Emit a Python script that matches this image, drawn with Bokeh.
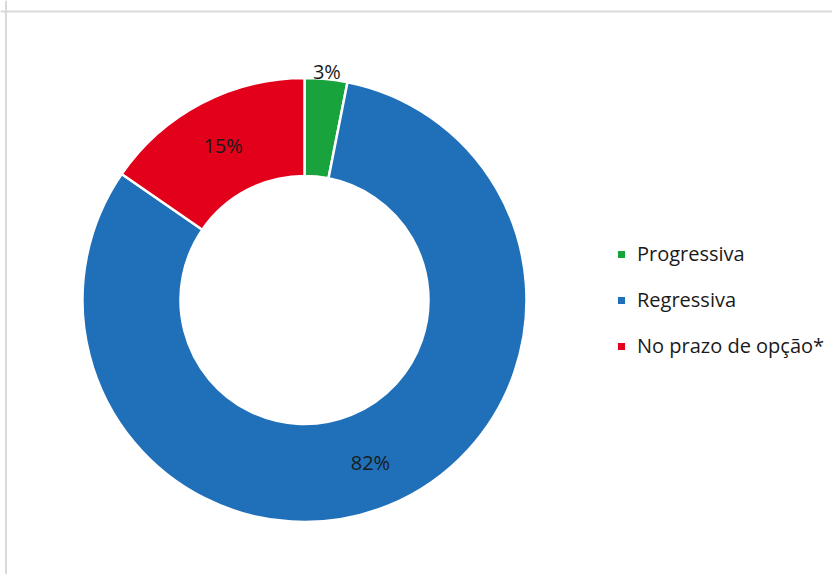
import numpy as np
from bokeh.plotting import figure
from bokeh.models import Range1d, ColumnDataSource, Legend, LegendItem, Span
from bokeh.core.properties import value
from bokeh.embed import file_html
from bokeh.resources import INLINE

categories = ["Progressiva", "Regressiva", "No prazo de opção*"]
shares = [3.1, 81.5, 15.4]
labels = ["3%", "82%", "15%"]
colors = ["#19a33c", "#1f70b8", "#e2001a"]

W, H = 832, 574
FONT = "Open Sans"

p = figure(width=W, height=H, output_backend="svg", toolbar_location=None,
           x_range=Range1d(0, W), y_range=Range1d(0, H),
           min_border=0, outline_line_color=None)
p.axis.visible = False
p.grid.visible = False
p.background_fill_color = "white"
p.border_fill_color = "white"

cx, cy = 304, H - 299.5
r_out, r_in = 222, 124

frac = np.array(shares, dtype=float) / sum(shares)
ends_cum = np.cumsum(frac)
starts_cum = ends_cum - frac
# clockwise from 12 o'clock
start_ang = np.pi / 2 - ends_cum * 2 * np.pi
end_ang = np.pi / 2 - starts_cum * 2 * np.pi
mid_ang = (start_ang + end_ang) / 2
lab_r = np.where(frac >= 0.05, (r_out + r_in) / 2 + 2, r_out + 8)
lx = cx + lab_r * np.cos(mid_ang)
ly = cy + lab_r * np.sin(mid_ang)

src = ColumnDataSource(dict(start=start_ang, end=end_ang, color=colors,
                            cat=categories, lx=lx, ly=ly, lab=labels))

wr = p.annular_wedge(x=cx, y=cy, inner_radius=r_in, outer_radius=r_out,
                     start_angle="start", end_angle="end", fill_color="color",
                     line_color="white", line_width=2.5, source=src)

p.text(x="lx", y="ly", text="lab", source=src, text_font=value(FONT),
       text_font_size="20px", text_color="#1a1a1a", text_align="center",
       text_baseline="middle")

# chart frame (top and left edges)
p.add_layout(Span(location=H - 11, dimension="width", line_color="#d9d9d9", line_width=2))
p.add_layout(Span(location=5.5, dimension="height", line_color="#d9d9d9", line_width=2))

items = [LegendItem(label=c, renderers=[wr], index=i) for i, c in enumerate(categories)]
legend = Legend(items=items, location=(615, 215), orientation="vertical",
                glyph_width=12, glyph_height=12, label_standoff=10,
                label_text_font=FONT, label_text_font_size="20px",
                label_text_color="#1a1a1a", label_height=24, spacing=19,
                padding=0, margin=0, border_line_color=None,
                background_fill_alpha=0)
p.add_layout(legend, "center")

open("out.html", "w").write(file_html(p, INLINE))
